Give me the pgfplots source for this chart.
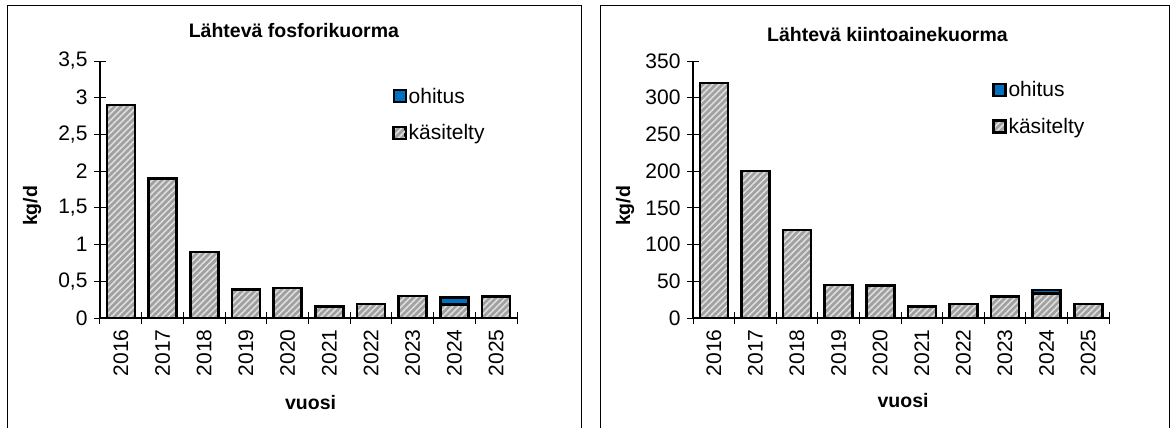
\documentclass[border=0pt]{standalone}
\usepackage{fontspec}
\setmainfont{Liberation Sans}
\usepackage{pgfplots}
\pgfplotsset{compat=1.18}
\usetikzlibrary{patterns.meta}
\definecolor{barfill}{RGB}{160,160,160}
\definecolor{hatch}{RGB}{222,222,222}
\definecolor{ohitusblue}{RGB}{0,112,192}
\newcommand\fs{\fontsize{19.5}{23}\selectfont}
\newcommand\ft{\fontsize{21}{25}\selectfont}
\newcommand\fl{\fontsize{21}{25}\selectfont}

\pgfplotsset{
  kuorma/.style={
    scale only axis, width=417pt, height=257pt,
    ybar stacked, bar width=28pt,
    xmin=-0.5, xmax=9.5, ymin=0,
    clip=false,
    axis lines*=left,
    axis line style={line width=1.2pt, -},
    xtick={0,...,9},
    xticklabels={2016,2017,2018,2019,2020,2021,2022,2023,2024,2025},
    minor xtick={-0.5,0.5,...,9.5},
    major x tick style={draw=none},
    minor x tick style={black, line width=1pt},
    ytick style={black, line width=1pt},
    tick align=center,
    major tick length=12pt, minor tick length=12pt,
    x tick label style={rotate=90, anchor=east, font=\ft, xshift=-2pt},
    y tick label style={font=\ft, xshift=-3pt},
    /pgf/number format/assume math mode=true,
    /pgf/number format/use comma,
    /pgf/number format/1000 sep={},
    xlabel={vuosi}, ylabel={kg/d},
    label style={font=\fs\bfseries},
    title style={font=\fs\bfseries, anchor=center},
    legend style={draw=none, fill=none, anchor=north west, font=\fl,
      inner sep=0pt, row sep=18pt, nodes={inner xsep=2pt, inner ysep=1pt}},
    legend cell align=left,
    reverse legend,
    legend image code/.code={\draw[#1, line width=2.2pt] (0pt,-6pt) rectangle (12pt,6pt);},
    kas/.style={draw=black, line width=2.6pt, preaction={fill=barfill},
      pattern={Lines[angle=45,distance=4.5pt,line width=1.6pt]}, pattern color=hatch},
    ohi/.style={draw=black, line width=2.6pt, fill=ohitusblue},
  }
}

\begin{document}
\begin{tikzpicture}
\useasboundingbox (0,0) rectangle (1171pt,-428pt);
\fill[white] (0,0) rectangle (1171pt,-428pt);
\draw[line width=1pt] (7pt,-440pt) -- (7pt,-6pt) -- (581pt,-6pt) -- (581pt,-440pt);
\draw[line width=1pt] (600pt,-440pt) -- (600pt,-6pt) -- (1169pt,-6pt) -- (1169pt,-440pt);

\begin{axis}[kuorma,
  at={(100pt,-318pt)}, anchor=south west,
  ymax=3.5, ytick distance=0.5,
  title={Lähtevä fosforikuorma},
  title style={at={(axis description cs:0.465,1.095)}},
  ylabel style={at={(axis description cs:-0.163,0.436)}, anchor=center},
  xlabel style={at={(axis description cs:0.505,-0.327)}, anchor=center},
  legend style={at={(axis description cs:0.701,0.90)}},
]
\addplot[kas] coordinates {(0,2.90) (1,1.90) (2,0.90) (3,0.385) (4,0.41) (5,0.16) (6,0.19) (7,0.30) (8,0.18) (9,0.29)};
\addlegendentry{käsitelty}
\addplot[ohi] coordinates {(0,0) (1,0) (2,0) (3,0) (4,0) (5,0) (6,0) (7,0) (8,0.10) (9,0)};
\addlegendentry{ohitus}
\end{axis}

\begin{axis}[kuorma,
  at={(693pt,-318pt)}, anchor=south west, width=416pt,
  ymax=350, ytick distance=50,
  title={Lähtevä kiintoainekuorma},
  title style={at={(axis description cs:0.4675,1.08)}},
  ylabel style={at={(axis description cs:-0.163,0.436)}, anchor=center},
  xlabel style={at={(axis description cs:0.505,-0.320)}, anchor=center},
  legend style={at={(axis description cs:0.719,0.925)}},
]
\addplot[kas] coordinates {(0,320) (1,200) (2,120) (3,45) (4,44) (5,16) (6,19) (7,29) (8,33) (9,19)};
\addlegendentry{käsitelty}
\addplot[ohi] coordinates {(0,0) (1,0) (2,0) (3,0) (4,0) (5,0) (6,0) (7,0) (8,5) (9,0)};
\addlegendentry{ohitus}
\end{axis}
\end{tikzpicture}
\end{document}
